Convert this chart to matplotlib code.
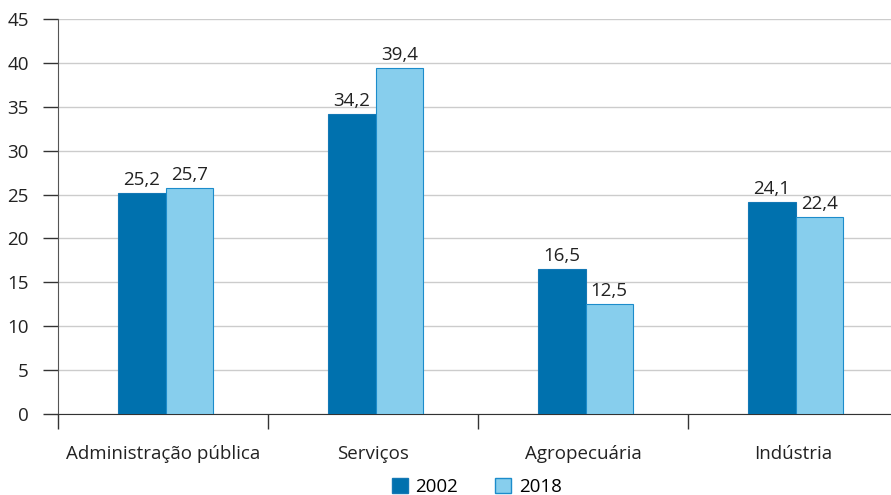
import numpy as np
import matplotlib.pyplot as plt
from matplotlib.patches import Patch

plt.rcParams['font.family'] = ['Open Sans', 'DejaVu Sans']

categorias = ['Administração pública', 'Serviços', 'Agropecuária', 'Indústria']
v2002 = [25.2, 34.2, 16.5, 24.1]
v2018 = [25.7, 39.4, 12.5, 22.4]
anos = ['2002', '2018']

cor_escura = '#0071AE'
cor_clara = '#87CEED'

fig = plt.figure(figsize=(8.91, 4.95), dpi=100)
ax = fig.add_axes([58 / 891, 81 / 495, 840 / 891, 395 / 495])

x = np.arange(len(categorias))
w = 0.226
desl = 0.012
b1 = ax.bar(x - w / 2 + desl, v2002, w, color=cor_escura, edgecolor='#1478B5', linewidth=0.8, zorder=3)
b2 = ax.bar(x + w / 2 + desl, v2018, w, color=cor_clara, edgecolor='#1C8CCB', linewidth=0.8, zorder=3)

def fmt(v):
    return f'{v:.1f}'.replace('.', ',')

for barras, vals in [(b1, v2002), (b2, v2018)]:
    for b, v in zip(barras, vals):
        ax.annotate(fmt(v), (b.get_x() + b.get_width() / 2, v), xytext=(0, 3),
                    textcoords='offset points', ha='center', va='bottom',
                    fontsize=13.5, color='#222222')

ax.set_xlim(-0.5, 3.5)
ax.set_ylim(0, 45)
ax.set_yticks(range(0, 46, 5))
ax.yaxis.grid(True, color='#cccccc', linewidth=1, zorder=0)
ax.set_axisbelow(True)

ax.set_xticks(x)
ax.set_xticklabels(categorias)
ax.set_xticks(np.arange(-0.5, 4, 1), minor=True)
ax.tick_params(axis='x', which='major', length=0, pad=22, labelsize=13.5, labelcolor='#222222')
ax.tick_params(axis='x', which='minor', length=11, width=1, color='#333333', direction='out')
ax.tick_params(axis='y', length=11, width=1, color='#333333', pad=10, labelsize=13.5, labelcolor='#222222')

for s in ['top', 'right']:
    ax.spines[s].set_visible(False)
ax.spines['left'].set_color('#555555')
ax.spines['bottom'].set_color('#333333')
ax.spines['left'].set_bounds(0, 45)

handles = [Patch(facecolor=cor_escura, edgecolor='#1478B5'),
           Patch(facecolor=cor_clara, edgecolor='#1C8CCB')]
fig.legend(handles, anos, loc='center', bbox_to_anchor=(0.535, 8 / 495), ncol=2,
           frameon=False, fontsize=13.5, handlelength=0.85, handleheight=0.85,
           handletextpad=0.4, columnspacing=2.0, borderpad=0, borderaxespad=0)

fig.savefig('out.png', dpi=100)
